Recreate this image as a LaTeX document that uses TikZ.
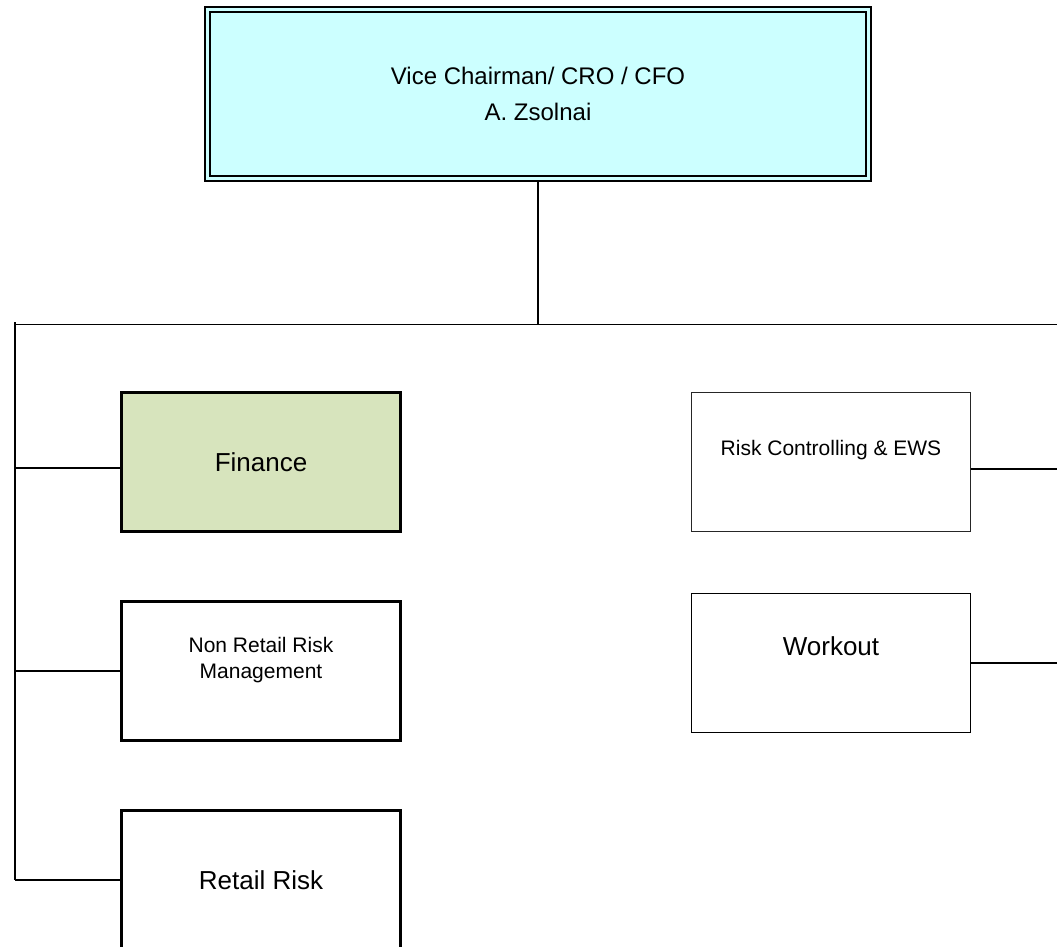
\documentclass[tikz,border=0pt]{standalone}
\usepackage{fontspec}
\setmainfont{Liberation Sans}
\usepackage{tikz}

\definecolor{headcyan}{RGB}{204,255,255}
\definecolor{fingreen}{RGB}{215,228,189}

\begin{document}
\begin{tikzpicture}[x=1pt,y=-1pt,
						unit/.style={draw, minimum width=279pt, minimum height=139pt, align=center, inner sep=0pt},
						bigtext/.style={font=\fontsize{26}{31}\selectfont},
						smalltext/.style={font=\fontsize{21}{26}\selectfont},
						link/.style={line width=1.5pt}]
		\useasboundingbox (0,0) rectangle (1057,946);
		\node[draw, fill=headcyan, double=headcyan, double distance=3.7pt, line width=1.3pt, outer sep=3.15pt,
			minimum width=661pt, minimum height=169pt, align=center,
			font=\fontsize{24}{36}\selectfont] (cro) at (538,94) {Vice Chairman/ CRO / CFO\\A. Zsolnai};
		\node[unit, bigtext, line width=3.3pt, fill=fingreen] (fin) at (261,462) {Finance};
		\node[unit, smalltext, line width=3.3pt, text depth=26pt] (nonretail) at (261,671) {Non Retail Risk\\Management};
		\node[unit, bigtext, line width=3.3pt] (retail) at (261,880) {Retail Risk};
		\node[unit, smalltext, line width=0.9pt, draw=black!85, text depth=27pt] (ews) at (831,461.5) {Risk Controlling \& EWS};
		\node[unit, bigtext, line width=1.7pt, text depth=34pt] (workout) at (831,663) {Workout};
		\coordinate (busL) at (15,324.5);
		\coordinate (busR) at (1057,324.5);
		\coordinate (busTop) at (15,322);
		\coordinate (finIn) at ([yshift=-6pt]fin.west);
		\coordinate (ewsOut) at ([yshift=-7.5pt]ews.east);
		\draw[link] (cro.south) -- (cro.south |- busL);
		\draw[link] (busL) -- (busR);
		\draw[link] (busTop) -- (busL |- retail.west);
		\draw[link] (finIn) -- (finIn -| busL);
		\draw[link] (nonretail.west) -- (nonretail.west -| busL);
		\draw[link] (retail.west) -- (retail.west -| busL);
		\draw[link] (ewsOut) -- (ewsOut -| busR);
		\draw[link] (workout.east) -- (workout.east -| busR);
	\end{tikzpicture}
\end{document}
